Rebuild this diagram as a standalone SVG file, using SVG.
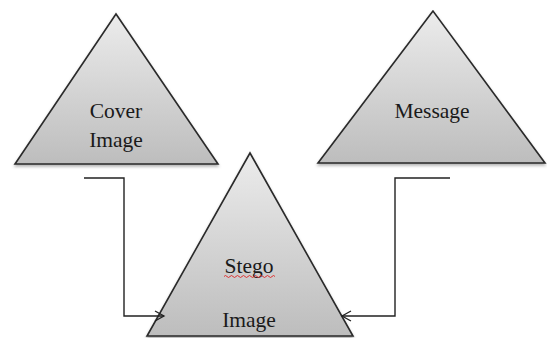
<svg xmlns="http://www.w3.org/2000/svg" width="547" height="338" viewBox="0 0 547 338">
<style>
.tri{fill:url(#g);stroke:#2a2a2a;stroke-width:1.6;stroke-linejoin:miter;filter:url(#sh)}
.lbl{font-family:"Liberation Serif","Times New Roman",serif;font-size:21.5px;fill:#1a1a1a;text-anchor:middle}
.con{fill:none;stroke:#222;stroke-width:1.4}
</style>
<defs>
<linearGradient id="g" x1="0" y1="0" x2="0" y2="1">
<stop offset="0" stop-color="#ececec"/>
<stop offset="1" stop-color="#bdbdbd"/>
</linearGradient>
<filter id="sh" x="-10%" y="-10%" width="120%" height="125%">
<feDropShadow dx="0" dy="2" stdDeviation="1.5" flood-color="#000" flood-opacity="0.3"/>
</filter>
<marker id="arr" markerWidth="12" markerHeight="12" refX="10" refY="6" orient="auto" markerUnits="userSpaceOnUse">
<path d="M1,1 L10,6 L1,11" fill="none" stroke="#222" stroke-width="1.3"/>
</marker>
</defs>
<rect width="547" height="338" fill="#fff"/>
<g id="cover">
<polygon class="tri" points="116,14 15,164 218,164"/>
<text class="lbl" x="116" y="118">Cover</text>
<text class="lbl" x="116" y="147">Image</text>
</g>
<g id="message">
<polygon class="tri" points="433,11 318,163 545,163"/>
<text class="lbl" x="432" y="118">Message</text>
</g>
<g id="stego">
<polygon class="tri" points="250,153 147,336 353,336"/>
<text class="lbl" x="249" y="273">Stego</text>
<path d="M224,276.5 q1.5,-2 3,0 t3,0 t3,0 t3,0 t3,0 t3,0 t3,0 t3,0 t3,0 t3,0 t3,0 t3,0 t3,0 t3,0 t3,0 t3,0 t3,0" fill="none" stroke="#e02020" stroke-width="0.9"/>
<text class="lbl" x="249" y="327">Image</text>
</g>
<g id="connectors">
<path class="con" d="M84,178 H124 V316 H164" marker-end="url(#arr)"/>
<path class="con" d="M450,178 H395 V316 H342" marker-end="url(#arr)"/>
</g>
</svg>
